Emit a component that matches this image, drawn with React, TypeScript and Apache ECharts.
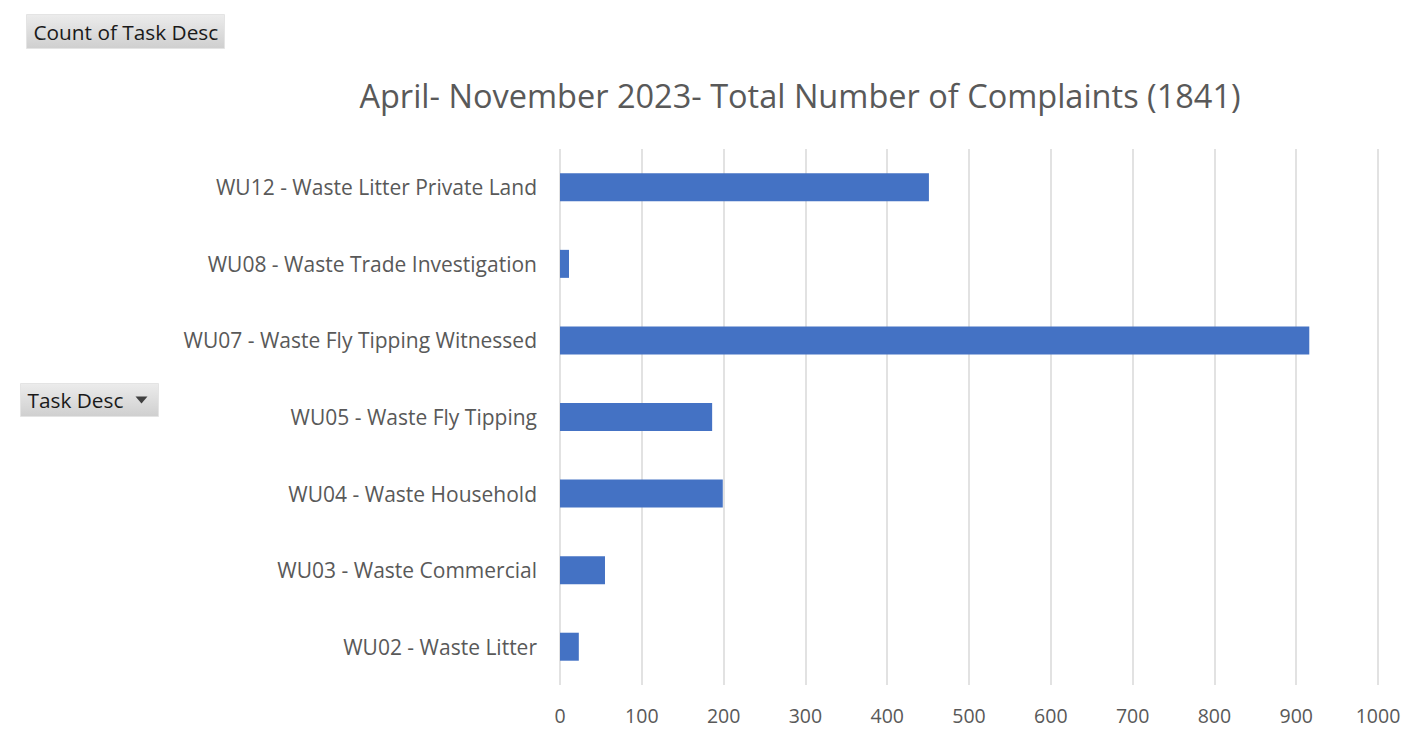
import React, { useEffect, useRef } from "react";
import * as echarts from "echarts";

const categories = [
  "WU12 - Waste Litter Private Land",
  "WU08 - Waste Trade Investigation",
  "WU07 - Waste Fly Tipping Witnessed",
  "WU05 - Waste Fly Tipping",
  "WU04 - Waste Household",
  "WU03 - Waste Commercial",
  "WU02 - Waste Litter",
];
const counts = [451, 11, 916, 186, 199, 55, 23];
const xTicks = { min: 0, max: 1000, interval: 100 };
const titleText = "April- November 2023- Total Number of Complaints (1841)";
const fieldButtonValue = "Count of Task Desc";
const fieldButtonAxis = "Task Desc";

const FONT = "Open Sans";
const GREY = "#595959";

export default function App() {
  const ref = useRef<HTMLDivElement>(null);
  useEffect(() => {
    if (!ref.current) return;
    const chart = echarts.init(ref.current, undefined, { renderer: "svg" });
    const btnFill = new echarts.graphic.LinearGradient(0, 0, 0, 1, [
      { offset: 0, color: "#ececec" },
      { offset: 1, color: "#cfcfcf" },
    ]);
    chart.setOption({
      animation: false,
      backgroundColor: "#ffffff",
      textStyle: { fontFamily: FONT },
      title: {
        text: titleText,
        left: 795,
        top: 74,
        textAlign: "center",
        textStyle: { fontFamily: FONT, fontSize: 32.5, fontWeight: "normal", color: GREY },
      },
      grid: { left: 560, right: 49, top: 149, bottom: 61, containLabel: false },
      xAxis: {
        type: "value",
        min: xTicks.min,
        max: xTicks.max,
        interval: xTicks.interval,
        axisLine: { show: false },
        axisTick: { show: false },
        axisLabel: { color: GREY, fontSize: 19.5, fontFamily: FONT, margin: 20, formatter: (v: number) => String(v) },
        splitLine: { show: true, lineStyle: { color: "#d9d9d9", width: 1.5 } },
      },
      yAxis: {
        type: "category",
        data: categories,
        inverse: true,
        axisLine: { show: false },
        axisTick: { show: false },
        axisLabel: { color: GREY, fontSize: 21, fontFamily: FONT, margin: 23 },
      },
      series: [
        {
          type: "bar",
          data: counts,
          barWidth: 28,
          itemStyle: { color: "#4472c4" },
        },
      ],
      graphic: [
        {
          type: "group",
          left: 26,
          top: 14,
          children: [
            { type: "rect", shape: { x: 0, y: 0, width: 198, height: 34 }, style: { fill: btnFill, stroke: "#e4e4e4", lineWidth: 1 } },
            { type: "text", x: 7, y: 17, style: { text: fieldButtonValue, fontFamily: FONT, fontSize: 20.8, fill: "#1a1a1a", verticalAlign: "middle" } },
          ],
        },
        {
          type: "group",
          left: 20,
          top: 383,
          children: [
            { type: "rect", shape: { x: 0, y: 0, width: 138, height: 33 }, style: { fill: btnFill, stroke: "#e4e4e4", lineWidth: 1 } },
            { type: "text", x: 7, y: 16.5, style: { text: fieldButtonAxis, fontFamily: FONT, fontSize: 20.8, fill: "#1a1a1a", verticalAlign: "middle" } },
            { type: "polygon", shape: { points: [[115, 13], [127, 13], [121, 20]] }, style: { fill: "#404040" } },
          ],
        },
      ],
    });
    return () => chart.dispose();
  }, []);
  return (
    <div
      ref={ref}
      style={{ position: "absolute", left: 0, top: 0, width: 1427, height: 746 }}
    />
  );
}
